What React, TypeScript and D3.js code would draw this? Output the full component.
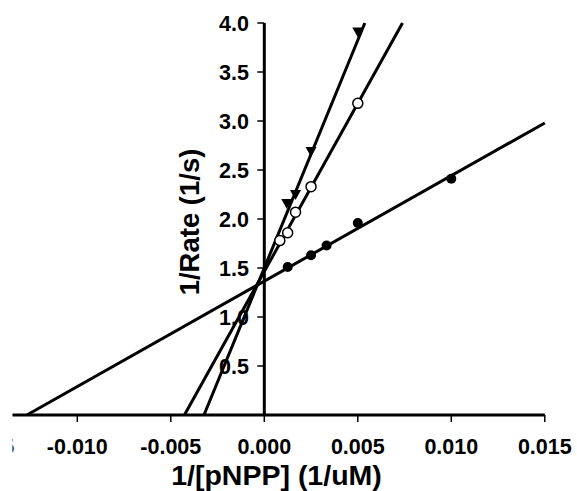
import React from "react";
import * as d3 from "d3";

// Lineweaver-Burk data: 1/[pNPP] (1/uM) vs 1/Rate (1/s)
const filledX = [0.00125, 0.0025, 0.00333, 0.005, 0.01];
const filledY = [1.51, 1.63, 1.73, 1.96, 2.41];
const openX = [0.00083, 0.00125, 0.00167, 0.0025, 0.005];
const openY = [1.78, 1.86, 2.07, 2.33, 3.18];
const triX = [0.0012, 0.00167, 0.0025, 0.005];
const triY = [2.16, 2.25, 2.69, 3.91];

// Fitted lines: [slope, intercept] for filled, open, triangle series
const fitSlopes = [107.6, 343, 465];
const fitIntercepts = [1.366, 1.465, 1.5];

const xTicks = [-0.015, -0.01, -0.005, 0, 0.005, 0.01, 0.015];
const yTicks = [0.5, 1.0, 1.5, 2.0, 2.5, 3.0, 3.5, 4.0];

const W = 577;
const H = 491;
const FONT = "'Liberation Sans', Arial, sans-serif";

export default function App() {
  const x = d3.scaleLinear().domain([-0.015, 0.015]).range([-16.2, 544.8]);
  const y = d3.scaleLinear().domain([0, 4]).range([415, 23]);
  const x0 = x(0);
  const y0 = y(0);

  const line = d3
    .line<[number, number]>()
    .x((d) => x(d[0]))
    .y((d) => y(d[1]));

  // Each fit spans from the x-axis up to the top of the y range or the right edge
  const fitSegments = fitSlopes.map((m, i) => {
    const b = fitIntercepts[i];
    const xStart = -b / m;
    let xEnd = (4 - b) / m;
    if (xEnd > 0.015) xEnd = 0.015;
    return [
      [xStart, 0],
      [xEnd, m * xEnd + b],
    ] as [number, number][];
  });

  const tri = (cx: number, cy: number) => {
    const s = 5.5;
    return `M${cx - s},${cy - s * 0.8}L${cx + s},${cy - s * 0.8}L${cx},${cy + s * 1.0}Z`;
  };

  return (
    <svg
      width={W}
      height={H}
      style={{ position: "absolute", left: 0, top: 0, background: "#fff" }}
    >
      <defs>
        <clipPath id="area">
          <rect x={12.5} y={0} width={W - 12.5} height={H} />
        </clipPath>
      </defs>
      <rect x={0} y={0} width={W} height={H} fill="#fff" />
      <g clipPath="url(#area)">
        {/* x tick labels */}
        {xTicks.map((t) => (
          <text
            key={"xl" + t}
            x={x(t)}
            y={454}
            textAnchor="middle"
            fontFamily={FONT}
            fontWeight="bold"
            fontSize={21.5}
            fill="#000"
          >
            {d3.format(".3f")(t).replace("−", "-")}
          </text>
        ))}
        {/* y tick labels */}
        {yTicks.map((t) => (
          <text
            key={"yl" + t}
            x={249}
            y={y(t) + 7.5}
            textAnchor="end"
            fontFamily={FONT}
            fontWeight="bold"
            fontSize={21.5}
            fill="#000"
          >
            {d3.format(".1f")(t)}
          </text>
        ))}
        {/* axis titles */}
        <text
          x={276.5}
          y={484.5}
          textAnchor="middle"
          fontFamily={FONT}
          fontWeight="bold"
          fontSize={28.5}
          fill="#000"
        >
          1/[pNPP] (1/uM)
        </text>
        <text
          transform={`translate(199,222) rotate(-90)`}
          textAnchor="middle"
          fontFamily={FONT}
          fontWeight="bold"
          fontSize={27.5}
          fill="#000"
        >
          1/Rate (1/s)
        </text>

        {/* axes */}
        <line x1={x(-0.015)} x2={x(0.015)} y1={y0} y2={y0} stroke="#000" strokeWidth={3} />
        <line x1={x0} x2={x0} y1={y(0)} y2={y(4)} stroke="#000" strokeWidth={3} />
        {xTicks.map((t) => (
          <line
            key={"xt" + t}
            x1={x(t)}
            x2={x(t)}
            y1={y0}
            y2={y0 + 7}
            stroke="#000"
            strokeWidth={1.5}
          />
        ))}
        {yTicks.map((t) => (
          <line
            key={"yt" + t}
            x1={x0 - 7}
            x2={x0}
            y1={y(t)}
            y2={y(t)}
            stroke="#000"
            strokeWidth={1.5}
          />
        ))}

        {/* fitted lines */}
        {fitSegments.map((seg, i) => (
          <path key={"fit" + i} d={line(seg) || ""} fill="none" stroke="#000" strokeWidth={3} />
        ))}

        {/* markers */}
        {filledX.map((v, i) => (
          <circle key={"f" + i} cx={x(v)} cy={y(filledY[i])} r={5} fill="#000" />
        ))}
        {openX.map((v, i) => (
          <circle
            key={"o" + i}
            cx={x(v)}
            cy={y(openY[i])}
            r={5}
            fill="#fff"
            stroke="#000"
            strokeWidth={1.5}
          />
        ))}
        {triX.map((v, i) => (
          <path key={"t" + i} d={tri(x(v), y(triY[i]))} fill="#000" />
        ))}
      </g>
    </svg>
  );
}
